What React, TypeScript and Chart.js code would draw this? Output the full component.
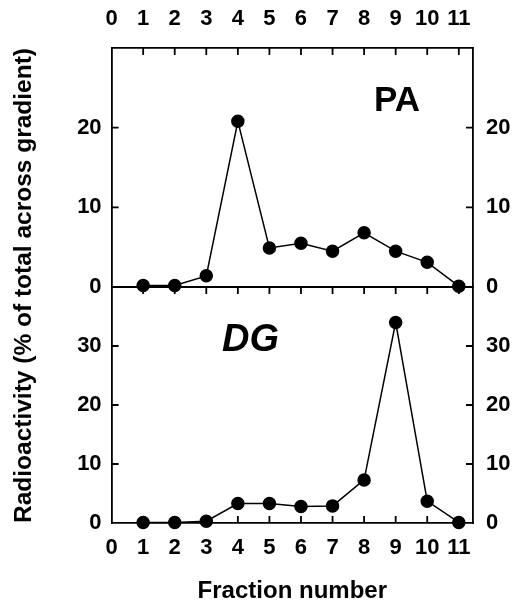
import React, { useEffect, useRef } from 'react';
import { Chart, registerables } from 'chart.js';

Chart.register(...registerables);

const FONT = "'Liberation Sans', Arial, Helvetica, sans-serif";

// ---- data ----
const fractions = [1, 2, 3, 4, 5, 6, 7, 8, 9, 10, 11];
const paValues = [0.2, 0.2, 1.4, 20.8, 4.9, 5.5, 4.5, 6.8, 4.5, 3.1, 0.1];
const dgValues = [0.1, 0.1, 0.3, 3.3, 3.3, 2.8, 2.9, 7.3, 34.0, 3.7, 0.1];
const xTickValues = [0, 1, 2, 3, 4, 5, 6, 7, 8, 9, 10, 11];
const paTickValues = [0, 10, 20];
const dgTickValues = [0, 10, 20, 30];
const yAxisTitle = 'Radioactivity (% of total across gradient)';
const xAxisTitle = 'Fraction number';
const panelNames = ['PA', 'DG'];

const inwardTicks = {
  id: 'inwardTicks',
  beforeDatasetsDraw(chart: any) {
    const { ctx, chartArea, scales } = chart;
    const len = 7;
    const x = scales.x;
    const x2 = scales.x2;
    const yTop = scales.yTop;
    const yBot = scales.yBot;
    const midY = yTop.getPixelForValue(0);
    ctx.save();
    ctx.strokeStyle = '#000';
    ctx.lineWidth = 1.8;
    ctx.beginPath();
    ctx.moveTo(chartArea.left, midY);
    ctx.lineTo(chartArea.right, midY);
    x2.ticks.forEach((t: any) => {
      if (t.value === 0) return;
      const px = x2.getPixelForValue(t.value);
      ctx.moveTo(px, chartArea.top);
      ctx.lineTo(px, chartArea.top + len);
    });
    x.ticks.forEach((t: any) => {
      if (t.value === 0) return;
      const px = x.getPixelForValue(t.value);
      ctx.moveTo(px, midY);
      ctx.lineTo(px, midY + len);
      ctx.moveTo(px, chartArea.bottom);
      ctx.lineTo(px, chartArea.bottom - len);
    });
    [yTop, yBot].forEach((s: any) => {
      s.ticks.forEach((t: any) => {
        if (t.value === 0) return;
        const py = s.getPixelForValue(t.value);
        ctx.moveTo(chartArea.left, py);
        ctx.lineTo(chartArea.left + len, py);
        ctx.moveTo(chartArea.right, py);
        ctx.lineTo(chartArea.right - len, py);
      });
    });
    ctx.stroke();
    ctx.restore();
  },
};

const panelLabels = {
  id: 'panelLabels',
  afterDatasetsDraw(chart: any, _args: any, opts: any) {
    const { ctx, scales } = chart;
    ctx.save();
    ctx.fillStyle = '#000';
    ctx.textAlign = 'center';
    ctx.textBaseline = 'middle';
    (opts.items || []).forEach((it: any) => {
      const px = scales.x.getPixelForValue(it.x);
      const py = scales[it.axis].getPixelForValue(it.y);
      ctx.font = `${it.style} bold ${it.size}px ${FONT}`;
      ctx.fillText(it.text, px, py);
    });
    ctx.restore();
  },
};

const tickFont = { family: FONT, size: 22, weight: 'bold' as const };
const borderOpt = { display: true, color: '#000', width: 1.8 };
const gridOpt = { display: false, drawTicks: false, tickLength: 0 };

function yScale(position: string, stack: string, weight: number, stackWeight: number, max: number, ticks: number[], width: number, padding: number) {
  return {
    type: 'linear',
    position,
    stack,
    weight,
    stackWeight,
    min: 0,
    max,
    afterBuildTicks: (s: any) => {
      s.ticks = ticks.map((v) => ({ value: v }));
    },
    afterFit: (s: any) => {
      s.width = width;
    },
    grid: gridOpt,
    border: borderOpt,
    ticks: { font: tickFont, color: '#000', padding },
  };
}

export default function App() {
  const ref = useRef<HTMLCanvasElement>(null);
  useEffect(() => {
    if (!ref.current) return;
    const chart = new Chart(ref.current, {
      type: 'line',
      data: {
        datasets: [
          {
            label: panelNames[0],
            data: fractions.map((f, i) => ({ x: f, y: paValues[i] })),
            xAxisID: 'x',
            yAxisID: 'yTop',
            borderColor: '#000',
            borderWidth: 1.5,
            pointRadius: 6,
            pointBackgroundColor: '#000',
            pointBorderColor: '#000',
            tension: 0,
            clip: false as any,
          },
          {
            label: panelNames[1],
            data: fractions.map((f, i) => ({ x: f, y: dgValues[i] })),
            xAxisID: 'x',
            yAxisID: 'yBot',
            borderColor: '#000',
            borderWidth: 1.5,
            pointRadius: 6,
            pointBackgroundColor: '#000',
            pointBorderColor: '#000',
            tension: 0,
            clip: false as any,
          },
        ],
      },
      options: {
        responsive: false,
        animation: false,
        layout: { padding: 0 },
        scales: {
          x: {
            type: 'linear',
            position: 'bottom',
            min: 0,
            max: 11.45,
            afterBuildTicks: (s: any) => {
              s.ticks = xTickValues.map((v) => ({ value: v }));
            },
            afterFit: (s: any) => {
              s.height = 92;
            },
            grid: gridOpt,
            border: borderOpt,
            ticks: { font: tickFont, color: '#000', padding: 12, autoSkip: false, maxRotation: 0 },
            title: {
              display: true,
              text: xAxisTitle,
              color: '#000',
              font: { family: FONT, size: 24, weight: 'bold' },
              padding: { top: 0, bottom: 9 },
            },
          },
          x2: {
            type: 'linear',
            position: 'top',
            min: 0,
            max: 11.45,
            afterBuildTicks: (s: any) => {
              s.ticks = xTickValues.map((v) => ({ value: v }));
            },
            afterFit: (s: any) => {
              s.height = 48;
            },
            grid: gridOpt,
            border: borderOpt,
            ticks: { font: tickFont, color: '#000', padding: 16, autoSkip: false, maxRotation: 0 },
          },
          yTop: yScale('left', 'left', 1, 239, 30, paTickValues, 72.2, 10) as any,
          yBot: yScale('left', 'left', 0, 236, 40, dgTickValues, 72.2, 10) as any,
          yTopR: yScale('right', 'right', 0, 239, 30, paTickValues, 42, 13) as any,
          yBotR: yScale('right', 'right', 1, 236, 40, dgTickValues, 42, 13) as any,
        },
        plugins: {
          legend: { display: false },
          tooltip: { enabled: false },
          title: {
            display: true,
            text: yAxisTitle,
            position: 'left',
            fullSize: false,
            color: '#000',
            font: { family: FONT, size: 24.5, weight: 'bold' },
            padding: { top: 10, bottom: 0 },
          },
          panelLabels: {
            items: [
              { text: panelNames[0], x: 9.04, y: 23.3, axis: 'yTop', size: 35, style: 'normal' },
              { text: panelNames[1], x: 4.4, y: 31.0, axis: 'yBot', size: 38, style: 'italic' },
            ],
          },
        } as any,
      },
      plugins: [inwardTicks, panelLabels],
    } as any);
    return () => chart.destroy();
  }, []);
  return (
    <div style={{ position: 'absolute', left: 0, top: 0, width: 515, height: 615, background: '#fff' }}>
      <canvas ref={ref} width={515} height={615} style={{ display: 'block' }} />
    </div>
  );
}
